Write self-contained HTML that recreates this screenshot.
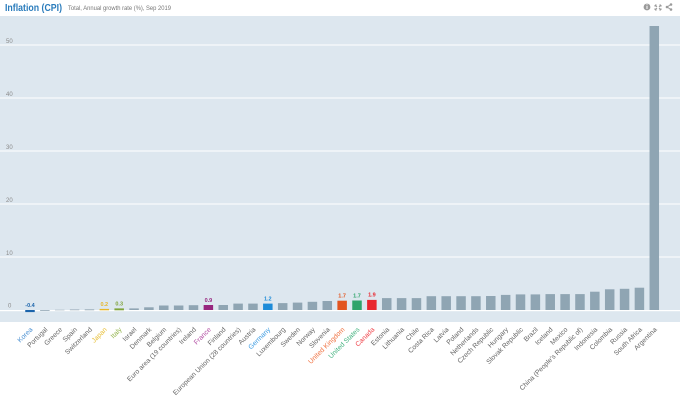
<!DOCTYPE html>
<html>
<head>
<meta charset="utf-8">
<style>
html,body{margin:0;padding:0;background:#fff;}
svg{display:block;}
text{font-family:"Liberation Sans",sans-serif;}
</style>
</head>
<body>
<svg width="680" height="401" viewBox="0 0 680 401" xmlns="http://www.w3.org/2000/svg">
<rect x="0" y="0" width="680" height="401" fill="#ffffff"/>
<!-- header -->
<text x="5" y="11" font-size="10.5" font-weight="bold" fill="#2a7cbc" textLength="57" lengthAdjust="spacingAndGlyphs">Inflation (CPI)</text>
<text x="68" y="10" font-size="6.5" fill="#777" textLength="103" lengthAdjust="spacingAndGlyphs">Total, Annual growth rate (%), Sep 2019</text>
<!-- icons -->
<circle cx="647" cy="7" r="3.4" fill="#9a9a9a"/>
<rect x="646.5" y="6" width="1" height="3" fill="#fff"/>
<rect x="646.5" y="4.3" width="1" height="1" fill="#fff"/>
<g stroke="#9a9a9a" stroke-width="1" fill="none">
<path d="M655,5 l2,2 M655,5 h1.6 M655,5 v1.6"/>
<path d="M661,5 l-2,2 M661,5 h-1.6 M661,5 v1.6"/>
<path d="M655,10 l2,-2 M655,10 h1.6 M655,10 v-1.6"/>
<path d="M661,10 l-2,-2 M661,10 h-1.6 M661,10 v-1.6"/>
<path d="M671,4.5 L667,7 L671,9.5"/>
</g>
<circle cx="671" cy="4.5" r="1.3" fill="#9a9a9a"/>
<circle cx="667" cy="7" r="1.3" fill="#9a9a9a"/>
<circle cx="671" cy="9.5" r="1.3" fill="#9a9a9a"/>
<!-- plot area -->
<rect x="0" y="16" width="680" height="306" fill="#dde7ef"/>
<g fill="#ffffff">
<rect x="0" y="44.5" width="680" height="1"/>
<rect x="0" y="97.5" width="680" height="1"/>
<rect x="0" y="150.5" width="680" height="1"/>
<rect x="0" y="203.5" width="680" height="1"/>
<rect x="0" y="256.5" width="680" height="1"/>
<rect x="0" y="310" width="680" height="1.2"/>
</g>
<g font-size="6" fill="#8a8a8a">
<text x="6" y="43">50</text>
<text x="6" y="96">40</text>
<text x="6" y="149">30</text>
<text x="6" y="202">20</text>
<text x="6" y="255">10</text>
<text x="8" y="307.5">0</text>
</g>
<!-- bars -->
<g fill="#8fa5b3">
<rect x="25.25" y="310" width="9.5" height="2.1" fill="#1b64ab"/>
<rect x="40.11" y="310" width="9.5" height="1" fill="#a5b6c2"/>
<rect x="54.98" y="309.6" width="9.5" height="0.8" fill="#b3c2cc"/>
<rect x="69.84" y="309.3" width="9.5" height="1" fill="#a5b6c2"/>
<rect x="84.71" y="309.3" width="9.5" height="1" fill="#9aacb9"/>
<rect x="99.57" y="308.9" width="9.5" height="1.4" fill="#e6b62a"/>
<rect x="114.43" y="308.4" width="9.5" height="1.9" fill="#7ea33a"/>
<rect x="129.30" y="308.4" width="9.5" height="1.6"/>
<rect x="144.16" y="307.3" width="9.5" height="2.7"/>
<rect x="159.03" y="305.5" width="9.5" height="4.5"/>
<rect x="173.89" y="305.5" width="9.5" height="4.5"/>
<rect x="188.75" y="305.2" width="9.5" height="4.8"/>
<rect x="203.62" y="305.0" width="9.5" height="5.0" fill="#97267f"/>
<rect x="218.48" y="305.0" width="9.5" height="5.0"/>
<rect x="233.35" y="303.6" width="9.5" height="6.4"/>
<rect x="248.21" y="303.6" width="9.5" height="6.4"/>
<rect x="263.07" y="303.6" width="9.5" height="6.4" fill="#1d8bd8"/>
<rect x="277.94" y="303.1" width="9.5" height="6.9"/>
<rect x="292.80" y="302.6" width="9.5" height="7.4"/>
<rect x="307.67" y="301.8" width="9.5" height="8.2"/>
<rect x="322.53" y="301.0" width="9.5" height="9.0"/>
<rect x="337.39" y="300.7" width="9.5" height="9.3" fill="#e2541f"/>
<rect x="352.26" y="300.5" width="9.5" height="9.5" fill="#2fa46b"/>
<rect x="367.12" y="299.9" width="9.5" height="10.1" fill="#e8262e"/>
<rect x="381.99" y="298.1" width="9.5" height="11.9"/>
<rect x="396.85" y="298.1" width="9.5" height="11.9"/>
<rect x="411.71" y="298.1" width="9.5" height="11.9"/>
<rect x="426.58" y="296.2" width="9.5" height="13.8"/>
<rect x="441.44" y="296.2" width="9.5" height="13.8"/>
<rect x="456.31" y="296.2" width="9.5" height="13.8"/>
<rect x="471.17" y="296.2" width="9.5" height="13.8"/>
<rect x="486.03" y="296.0" width="9.5" height="14.0"/>
<rect x="500.90" y="294.9" width="9.5" height="15.1"/>
<rect x="515.76" y="294.4" width="9.5" height="15.6"/>
<rect x="530.63" y="294.4" width="9.5" height="15.6"/>
<rect x="545.49" y="294.1" width="9.5" height="15.9"/>
<rect x="560.35" y="294.1" width="9.5" height="15.9"/>
<rect x="575.22" y="294.1" width="9.5" height="15.9"/>
<rect x="590.08" y="291.7" width="9.5" height="18.3"/>
<rect x="604.95" y="289.3" width="9.5" height="20.7"/>
<rect x="619.81" y="288.8" width="9.5" height="21.2"/>
<rect x="634.67" y="287.7" width="9.5" height="22.3"/>
<rect x="649.54" y="26" width="9.5" height="284"/>
</g>
<!-- value labels -->
<g font-size="5.5" font-weight="bold" text-anchor="middle">
<text x="30" y="307" fill="#1b64ab">-0.4</text>
<text x="104.3" y="306" fill="#e6b62a">0.2</text>
<text x="119.2" y="305.4" fill="#7ea33a">0.3</text>
<text x="208.4" y="301.8" fill="#97267f">0.9</text>
<text x="267.8" y="300.4" fill="#1d8bd8">1.2</text>
<text x="342.1" y="297.5" fill="#e2541f">1.7</text>
<text x="357.0" y="297.3" fill="#2fa46b">1.7</text>
<text x="371.9" y="296.7" fill="#e8262e">1.9</text>
</g>
<!-- category labels -->
<g font-size="6.8" fill="#666" text-anchor="end">
<text transform="translate(33,330) rotate(-45)" fill="#4a90d2">Korea</text>
<text transform="translate(47.9,330) rotate(-45)">Portugal</text>
<text transform="translate(62.7,330) rotate(-45)">Greece</text>
<text transform="translate(77.6,330) rotate(-45)">Spain</text>
<text transform="translate(92.5,330) rotate(-45)">Switzerland</text>
<text transform="translate(107.3,330) rotate(-45)" fill="#e8c03a">Japan</text>
<text transform="translate(122.2,330) rotate(-45)" fill="#93b44c">Italy</text>
<text transform="translate(137.0,330) rotate(-45)">Israel</text>
<text transform="translate(151.9,330) rotate(-45)">Denmark</text>
<text transform="translate(166.8,330) rotate(-45)">Belgium</text>
<text transform="translate(181.6,330) rotate(-45)">Euro area (19 countries)</text>
<text transform="translate(196.5,330) rotate(-45)">Ireland</text>
<text transform="translate(211.4,330) rotate(-45)" fill="#b24da3">France</text>
<text transform="translate(226.2,330) rotate(-45)">Finland</text>
<text transform="translate(241.1,330) rotate(-45)">European Union (28 countries)</text>
<text transform="translate(256.0,330) rotate(-45)">Austria</text>
<text transform="translate(270.8,330) rotate(-45)" fill="#3b9be2">Germany</text>
<text transform="translate(285.7,330) rotate(-45)">Luxembourg</text>
<text transform="translate(300.6,330) rotate(-45)">Sweden</text>
<text transform="translate(315.4,330) rotate(-45)">Norway</text>
<text transform="translate(330.3,330) rotate(-45)">Slovenia</text>
<text transform="translate(345.1,330) rotate(-45)" fill="#f0703f">United Kingdom</text>
<text transform="translate(360.0,330) rotate(-45)" fill="#43b27f">United States</text>
<text transform="translate(374.9,330) rotate(-45)" fill="#f0444b">Canada</text>
<text transform="translate(389.7,330) rotate(-45)">Estonia</text>
<text transform="translate(404.6,330) rotate(-45)">Lithuania</text>
<text transform="translate(419.5,330) rotate(-45)">Chile</text>
<text transform="translate(434.3,330) rotate(-45)">Costa Rica</text>
<text transform="translate(449.2,330) rotate(-45)">Latvia</text>
<text transform="translate(464.1,330) rotate(-45)">Poland</text>
<text transform="translate(478.9,330) rotate(-45)">Netherlands</text>
<text transform="translate(493.8,330) rotate(-45)">Czech Republic</text>
<text transform="translate(508.7,330) rotate(-45)">Hungary</text>
<text transform="translate(523.5,330) rotate(-45)">Slovak Republic</text>
<text transform="translate(538.4,330) rotate(-45)">Brazil</text>
<text transform="translate(553.2,330) rotate(-45)">Iceland</text>
<text transform="translate(568.1,330) rotate(-45)">Mexico</text>
<text transform="translate(583.0,330) rotate(-45)">China (People's Republic of)</text>
<text transform="translate(597.8,330) rotate(-45)">Indonesia</text>
<text transform="translate(612.7,330) rotate(-45)">Colombia</text>
<text transform="translate(627.6,330) rotate(-45)">Russia</text>
<text transform="translate(642.4,330) rotate(-45)">South Africa</text>
<text transform="translate(657.3,330) rotate(-45)">Argentina</text>
</g>
</svg>
</body>
</html>
